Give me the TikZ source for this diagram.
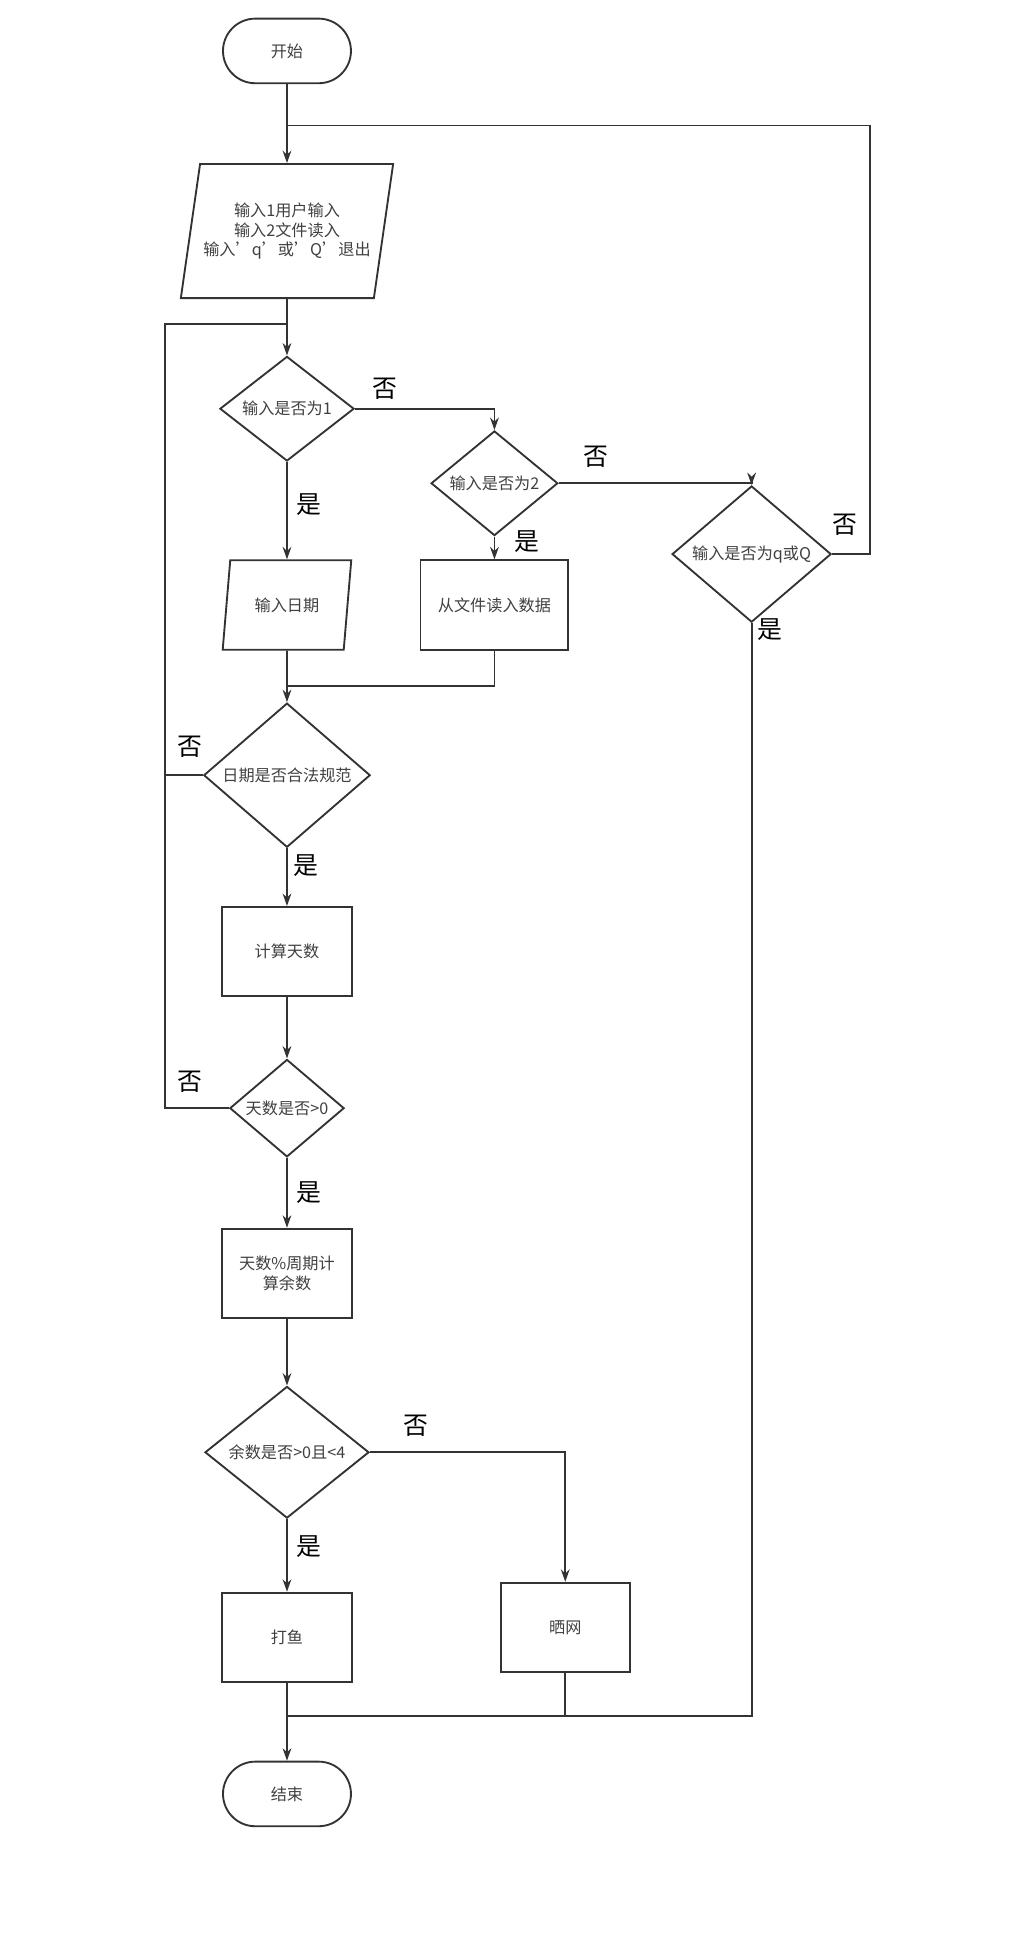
\documentclass[tikz,border=0pt]{standalone}
\usepackage{fontspec}
\setmainfont{Noto Sans CJK SC}
\usetikzlibrary{shapes.geometric,arrows.meta}
\tikzset{
  flow/.style={draw=black!80,line width=1.5pt},
  arrow/.style={flow,-{Stealth[length=10pt,width=7pt]}},
  box/.style={draw=black!80,line width=1.5pt,rectangle,inner sep=0pt,font=\fontsize{13}{16}\selectfont,text=black!75,align=center},
  term/.style={box,rounded rectangle,minimum width=103pt,minimum height=52pt},
  proc/.style={box,minimum width=104pt,minimum height=72pt},
  io/.style={box,trapezium,trapezium stretches=true},
  cond/.style={box,diamond},
  lab/.style={font=\fontsize{20}{22}\selectfont,text=black}
}
\usetikzlibrary{shapes.misc}
\begin{document}
\begin{tikzpicture}[x=1pt,y=-1pt]
\useasboundingbox (0,0) rectangle (830,1564);
% nodes
\node[term] (start) at (231,41) {开始};
\node[io,trapezium left angle=72,trapezium right angle=108,minimum width=171pt,minimum height=108pt] (inp) at (231,186) {输入1用户输入\\输入2文件读入\\输入'q'或'Q'退出};
\node[cond,minimum width=108pt,minimum height=74pt] (d1) at (231,329) {输入是否为1};
\node[cond,minimum width=102pt,minimum height=70pt] (d2) at (398,389) {输入是否为2};
\node[cond,minimum width=128pt,minimum height=70pt] (d3) at (605,446) {输入是否为q或Q};
\node[io,trapezium left angle=74,trapezium right angle=106,minimum width=104pt,minimum height=72pt] (date) at (231,487) {输入日期};
\node[proc,minimum width=119pt] (file) at (398,487) {从文件读入数据};
\node[cond,minimum width=134pt,minimum height=82pt] (d4) at (231,624) {日期是否合法规范};
\node[proc] (calc) at (231,766) {计算天数};
\node[cond,minimum width=92pt,minimum height=72pt] (d5) at (231,892) {天数是否>0};
\node[proc] (rem) at (231,1025) {天数\%周期计\\算余数};
\node[cond,minimum width=132pt,minimum height=88pt] (d6) at (231,1169) {余数是否>0且<4};
\node[proc] (fish) at (231,1318) {打鱼};
\node[proc] (net) at (455,1310) {晒网};
\node[term] (end) at (231,1444) {结束};
\coordinate (top) at (231,101);
\coordinate (back) at (231,261);
\coordinate (join) at (231,552);
\coordinate (fin) at (231,1381);
% connectors
\draw[arrow] (start) -- (inp);
\draw[flow] (d3.east) -- (700,446) -- (700,101) -- (top);
\draw[arrow] (inp) -- (d1);
\draw[flow] (d4.west) -- (133,624) -- (133,261) -- (back);
\draw[flow] (d5.west) -- (133,892) -- (133,624);
\draw[arrow] (d1.east) -| (d2.north);
\draw[arrow] (d2.east) -| (d3.north);
\draw[arrow] (d1) -- (date);
\draw[arrow] (d2) -- (file);
\draw[arrow] (date) -- (d4);
\draw[flow] (file.south) |- (join);
\draw[arrow] (d4) -- (calc);
\draw[arrow] (calc) -- (d5);
\draw[arrow] (d5) -- (rem);
\draw[arrow] (rem) -- (d6);
\draw[arrow] (d6) -- (fish);
\draw[arrow] (d6.east) -| (net.north);
\draw[arrow] (fish) -- (end);
\draw[flow] (net.south) |- (fin);
\draw[flow] (d3.south) |- (fin);
% labels
\node[lab] at (310,313) {否};
\node[lab] at (480,368) {否};
\node[lab] at (680,422) {否};
\node[lab] at (153,601) {否};
\node[lab] at (153,871) {否};
\node[lab] at (335,1148) {否};
\node[lab] at (249,406) {是};
\node[lab] at (424,436) {是};
\node[lab] at (620,507) {是};
\node[lab] at (246,697) {是};
\node[lab] at (249,960) {是};
\node[lab] at (249,1245) {是};
\end{tikzpicture}
\end{document}
